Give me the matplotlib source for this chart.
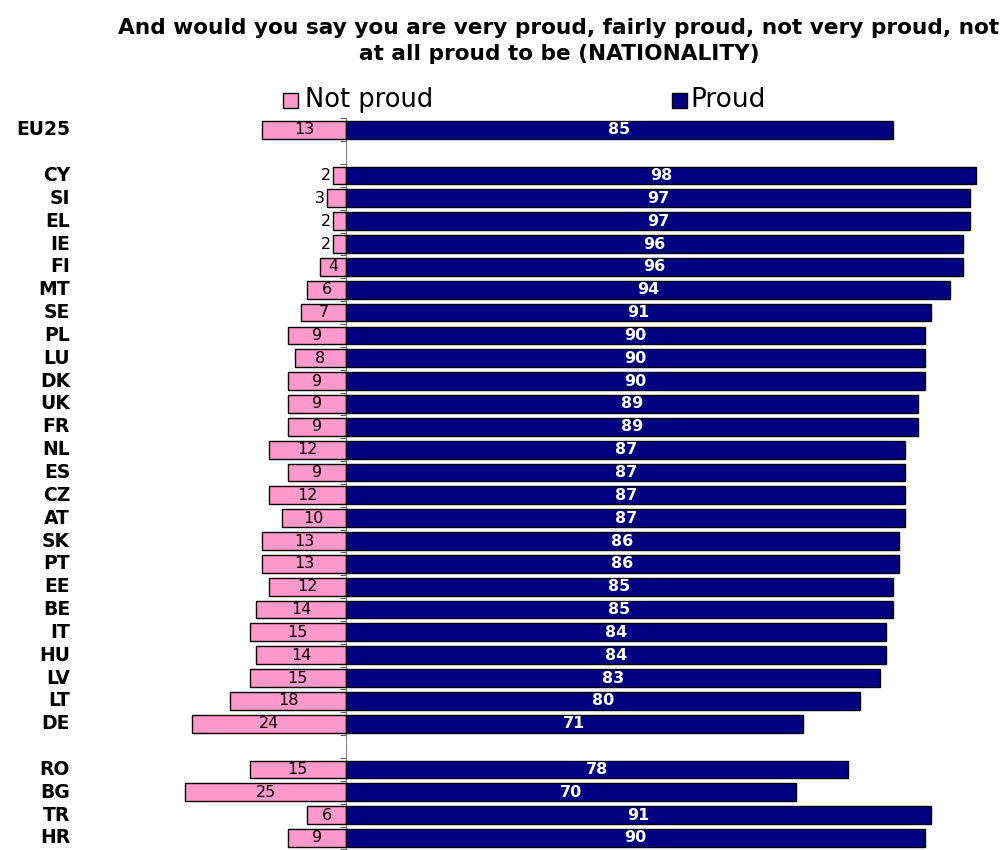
import matplotlib.pyplot as plt
import matplotlib.transforms as mtransforms
from matplotlib.patches import Rectangle

# --- data (None = empty spacer row) ---
countries = ['EU25', None, 'CY', 'SI', 'EL', 'IE', 'FI', 'MT', 'SE', 'PL', 'LU', 'DK',
             'UK', 'FR', 'NL', 'ES', 'CZ', 'AT', 'SK', 'PT', 'EE', 'BE', 'IT', 'HU',
             'LV', 'LT', 'DE', None, 'RO', 'BG', 'TR', 'HR']
not_proud = [13, None, 2, 3, 2, 2, 4, 6, 7, 9, 8, 9, 9, 9, 12, 9, 12, 10, 13, 13, 12,
             14, 15, 14, 15, 18, 24, None, 15, 25, 6, 9]
proud = [85, None, 98, 97, 97, 96, 96, 94, 91, 90, 90, 90, 89, 89, 87, 87, 87, 87, 86,
         86, 85, 85, 84, 84, 83, 80, 71, None, 78, 70, 91, 90]

PINK = '#FF99CC'
NAVY = '#000080'

W, H = 1006, 850
fig = plt.figure(figsize=(W / 100, H / 100), dpi=100)

# axes placed so that 0 sits at x=346 px and rows are ~22.8 px apart
ax = fig.add_axes([120 / W, 0.0007, 880 / W, 731 / H])
ax.set_xlim(-35.15, 101.7)
ax.set_ylim(31.5, -0.5)

for i, (c, n, p) in enumerate(zip(countries, not_proud, proud)):
    if c is None:
        continue
    ax.barh(i, -n, height=0.78, color=PINK, edgecolor='black', linewidth=1)
    ax.barh(i, p, height=0.78, color=NAVY, edgecolor='black', linewidth=1)
    # labels
    if n < 4:
        ax.text(-n - 0.3, i, str(n), ha='right', va='center', fontsize=11.5)
    else:
        ax.text(-n / 2, i, str(n), ha='center', va='center', fontsize=11.5)
    ax.text(p / 2, i, str(p), ha='center', va='center', fontsize=11.5,
            color='white', fontweight='bold')

# country names at the far left
trans = mtransforms.blended_transform_factory(fig.transFigure, ax.transData)
for i, c in enumerate(countries):
    if c is not None:
        ax.text(70 / W, i, c, transform=trans, ha='right', va='center',
                fontsize=13.5, fontweight='bold')

# axis: single vertical line at 0 with small ticks between rows
for s in ['top', 'right', 'bottom']:
    ax.spines[s].set_visible(False)
ax.spines['left'].set_position(('data', 0))
ax.spines['left'].set_color('#808080')
ax.spines['left'].set_zorder(0)
ax.set_yticks([k + 0.5 for k in range(-1, 32)])
ax.tick_params(axis='y', length=4, color='#606060', labelleft=False)
ax.set_xticks([])

# title
fig.text(559 / W, 1 - 28 / H, 'And would you say you are very proud, fairly proud, not very proud, not',
         ha='center', va='center', fontsize=15.6, fontweight='bold')
fig.text(559 / W, 1 - 54 / H, 'at all proud to be (NATIONALITY)',
         ha='center', va='center', fontsize=15.6, fontweight='bold')

# legend drawn by hand
fig.patches.append(Rectangle((283 / W, 1 - 108 / H), 15 / W, 15 / H, transform=fig.transFigure,
                             facecolor=PINK, edgecolor='black', linewidth=1))
fig.text(305 / W, 1 - 100 / H, 'Not proud', ha='left', va='center', fontsize=18.5)
fig.patches.append(Rectangle((672 / W, 1 - 108 / H), 15 / W, 15 / H, transform=fig.transFigure,
                             facecolor=NAVY, edgecolor='black', linewidth=1))
fig.text(690 / W, 1 - 100 / H, 'Proud', ha='left', va='center', fontsize=19)

fig.savefig('out.png', dpi=100)
